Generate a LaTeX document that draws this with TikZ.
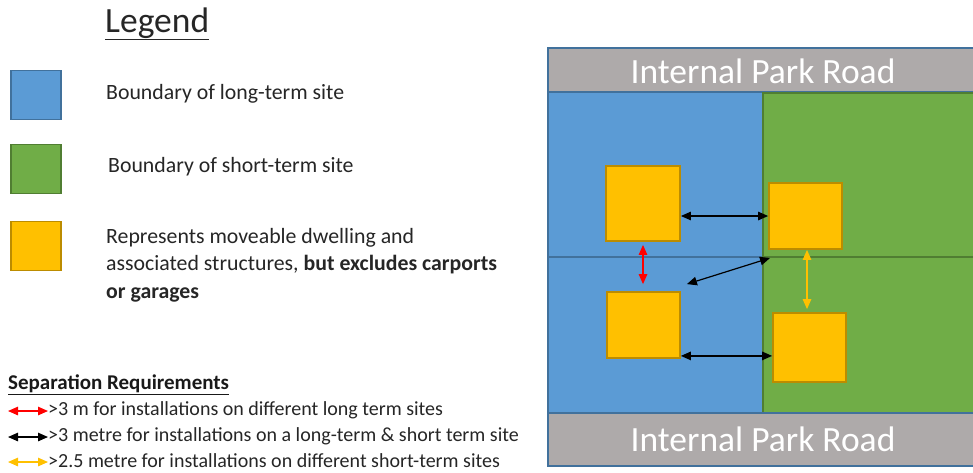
\documentclass[tikz,border=0pt]{standalone}
\usepackage{fontspec}
\setmainfont{Carlito}
\usetikzlibrary{arrows.meta,calc}
\definecolor{lotblue}{HTML}{5B9BD5}
\definecolor{lotblueedge}{HTML}{41719C}
\definecolor{lotgreen}{HTML}{70AD47}
\definecolor{lotgreenedge}{HTML}{507E32}
\definecolor{dwelling}{HTML}{FFC000}
\definecolor{dwellingedge}{HTML}{BC8C00}
\definecolor{roadgray}{HTML}{AEAAAA}
\tikzset{
  longsite/.style={fill=lotblue,draw=lotblueedge,line width=1.8pt},
  shortsite/.style={fill=lotgreen,draw=lotgreenedge,line width=1.8pt},
  road/.style={fill=roadgray,draw=lotblueedge,line width=1.8pt},
  roadlabel/.style={text=white,font=\fontsize{35.5}{38}\selectfont,inner sep=0pt},
  house/.style={fill=dwelling,draw=dwellingedge,line width=1.8pt,inner sep=0pt},
  keybox/.style={draw,line width=1.8pt,minimum width=50pt,minimum height=49pt,inner sep=0pt},
  keytext/.style={anchor=west,font=\fontsize{21.8}{27.5}\selectfont,inner sep=0pt,align=left,text=black!85},
  reqtext/.style={anchor=west,font=\fontsize{20}{22}\selectfont,inner sep=0pt,text=black!85},
  sep/.style={line width=1.2pt,{Triangle[length=10pt,width=8.5pt]}-{Triangle[length=10pt,width=8.5pt]}},
}
\begin{document}
\begin{tikzpicture}[x=1pt,y=-1pt]
\useasboundingbox (0,0) rectangle (973,472);
\fill[white] (0,0) rectangle (973,472);

% ---- legend ----
\node[anchor=base west,inner sep=0pt,font=\fontsize{35.5}{40}\selectfont,text=black!85] (title) at (105,32) {\underline{Legend}};

\node[keybox,fill=lotblue,draw=lotblueedge] (kblue) at (36,95) {};
\node[keybox,fill=lotgreen,draw=lotgreenedge] (kgreen) at (36,169) {};
\node[keybox,fill=dwelling,draw=dwellingedge] (kyellow) at (36,246) {};

\node[keytext] (tblue) at (106,94) {Boundary of long-term site};
\node[keytext] (tgreen) at (108,167) {Boundary of short-term site};
\node[keytext,anchor=north west] (tyellow) at (106,228) {Represents moveable dwelling and\\associated structures, \textbf{but excludes carports}\\\textbf{or garages}};

% ---- separation requirements ----
\node[anchor=west,inner sep=0pt,font=\bfseries\fontsize{21}{24}\selectfont,text=black!90] (reqhead) at (8,385) {\underline{Separation Requirements}};

\coordinate (r1a) at (8,411);  \coordinate (r1b) at (48,411);
\coordinate (r2a) at (8,437);  \coordinate (r2b) at (48,437);
\coordinate (r3a) at (8,462);  \coordinate (r3b) at (48,462);
\draw[sep,red] (r1a) -- (r1b);
\draw[sep,black] (r2a) -- (r2b);
\draw[sep,dwelling] (r3a) -- (r3b);
\node[reqtext] (q1) at (48,410) {>3 m for installations on different long term sites};
\node[reqtext] (q2) at (48,436) {>3 metre for installations on a long-term \& short term site};
\node[reqtext] (q3) at (48,460.5) {>2.5 metre for installations on different short-term sites};

% ---- site plan ----
\draw[road] (548,48) rectangle (976,92);
\node[roadlabel] (roadtop) at (763,71) {Internal Park Road};

\draw[longsite] (548,92) rectangle (763,257);
\draw[longsite] (548,257) rectangle (763,413);
\draw[shortsite] (763,93) rectangle (976,257);
\draw[shortsite] (763,257) rectangle (976,413);

\draw[road] (548,413) rectangle (976,466);
\node[roadlabel] (roadbot) at (763,439) {Internal Park Road};

% dwellings
\node[house,minimum width=74pt,minimum height=75pt] (A) at (643,203.5) {};
\node[house,minimum width=73pt,minimum height=66pt] (B) at (805.5,216) {};
\node[house,minimum width=73pt,minimum height=66pt] (C) at (643.5,325) {};
\node[house,minimum width=73pt,minimum height=69pt] (D) at (809.5,347.5) {};

% separation arrows
\draw[sep,black] (A.east |- B.west) -- (B.west);
\draw[sep,black] ($(C.south east)+(0,-3)$) -- ($(D.west |- C.south east)+(0,-3)$);
\draw[sep,red] ($(A.south)+(0,3)$) -- ($(A.south |- C.north)+(0,-7)$);
\draw[sep,dwelling] ($(B.south)+(1.5,0)$) -- ($(B.south |- D.north)+(1.5,-3)$);
\coordinate (diagtip) at (770,258);
\draw[sep,black] (diagtip) -- ($(C.north east)+(6,-7)$);
\end{tikzpicture}
\end{document}
